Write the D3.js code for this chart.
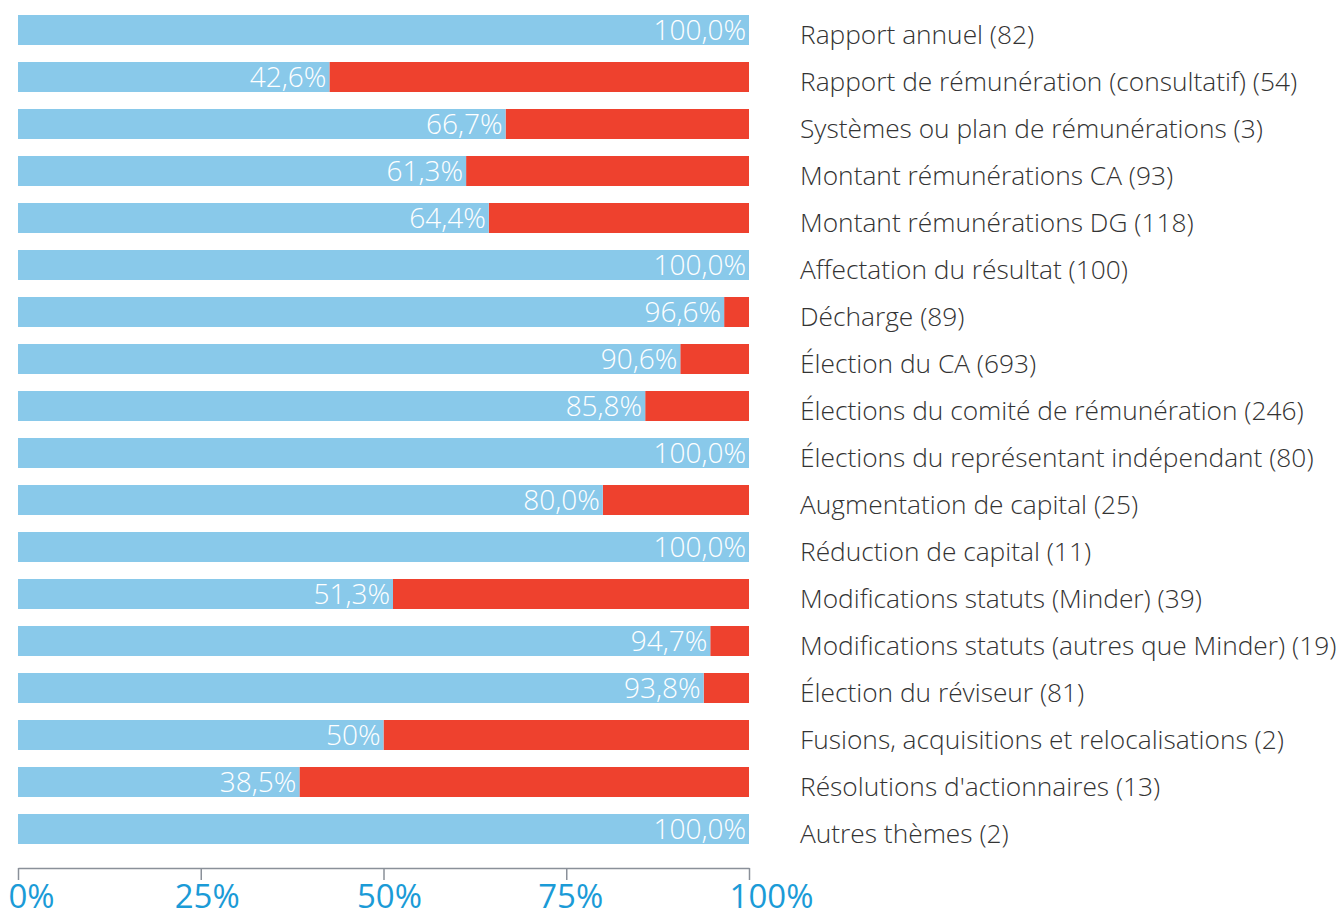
<!DOCTYPE html>
<html>
<head>
<meta charset="utf-8">
<script src="https://cdn.jsdelivr.net/npm/d3@7"></script>
<style>
  body { margin: 0; background: #fff; }
  svg text { font-family: "Open Sans", sans-serif; }
</style>
</head>
<body>
<div id="chart"></div>
<script>
// Categories (top to bottom)
var categories = [
  "Rapport annuel (82)",
  "Rapport de rémunération (consultatif) (54)",
  "Systèmes ou plan de rémunérations (3)",
  "Montant rémunérations CA (93)",
  "Montant rémunérations DG (118)",
  "Affectation du résultat (100)",
  "Décharge (89)",
  "Élection du CA (693)",
  "Élections du comité de rémunération (246)",
  "Élections du représentant indépendant (80)",
  "Augmentation de capital (25)",
  "Réduction de capital (11)",
  "Modifications statuts (Minder) (39)",
  "Modifications statuts (autres que Minder) (19)",
  "Élection du réviseur (81)",
  "Fusions, acquisitions et relocalisations (2)",
  "Résolutions d'actionnaires (13)",
  "Autres thèmes (2)"
];

// Share of approval (%)
var approval = [100, 42.6, 66.7, 61.3, 64.4, 100, 96.6, 90.6, 85.8, 100, 80, 100, 51.3, 94.7, 93.8, 50, 38.5, 100];

var valueLabels = ["100,0%", "42,6%", "66,7%", "61,3%", "64,4%", "100,0%", "96,6%", "90,6%", "85,8%",
  "100,0%", "80,0%", "100,0%", "51,3%", "94,7%", "93,8%", "50%", "38,5%", "100,0%"];

var tickValues = [0, 25, 50, 75, 100];
var tickLabels = ["0%", "25%", "50%", "75%", "100%"];

var svgWidth = 1341;
var svgHeight = 915;

var svg = d3.select("#chart")
  .append("svg")
  .attr("width", svgWidth)
  .attr("height", svgHeight);

var x = d3.scaleLinear()
  .domain([0, 100])
  .range([18, 749]);

var y = d3.scaleBand()
  .domain(categories)
  .range([15, 844])
  .paddingInner(17 / 47)
  .paddingOuter(0);

var rows = categories.map(function (c, i) {
  return { cat: c, yes: approval[i], label: valueLabels[i] };
});

// red part (rest up to 100%)
svg.selectAll(".no")
  .data(rows)
  .enter()
  .append("rect")
  .attr("x", d => x(d.yes))
  .attr("y", d => y(d.cat))
  .attr("width", d => x(100) - x(d.yes))
  .attr("height", y.bandwidth())
  .attr("fill", "#ee412e");

// blue part
svg.selectAll(".yes")
  .data(rows)
  .enter()
  .append("rect")
  .attr("x", x(0))
  .attr("y", d => y(d.cat))
  .attr("width", d => x(d.yes) - x(0))
  .attr("height", y.bandwidth())
  .attr("fill", "#89c9ea");

// values inside the bars
svg.selectAll(".val")
  .data(rows)
  .enter()
  .append("text")
  .attr("x", d => x(d.yes) - 3)
  .attr("y", d => y(d.cat) + y.bandwidth() / 2)
  .attr("dy", "0.36em")
  .attr("text-anchor", "end")
  .attr("fill", "#fff")
  .attr("font-size", "28px")
  .attr("font-weight", 300)
  .text(d => d.label);

// category labels
svg.selectAll(".cat")
  .data(rows)
  .enter()
  .append("text")
  .attr("x", 800)
  .attr("y", d => y(d.cat) + y.bandwidth() / 2 + 5)
  .attr("dy", "0.36em")
  .attr("fill", "#333")
  .attr("font-size", "26.3px")
  .attr("font-weight", 300)
  .text(d => d.cat);

// bottom axis
var labelShift = [13, 6, 5.5, 4, 22];
var bottomAxis = d3.axisBottom(x)
  .tickValues(tickValues)
  .tickSize(12)
  .tickSizeOuter(0)
  .tickFormat((d, i) => tickLabels[i]);

var axisG = svg.append("g")
  .attr("transform", "translate(0, 868)")
  .call(bottomAxis);

axisG.select(".domain")
  .attr("stroke", "#8a9099")
  .attr("stroke-width", 1.5);
axisG.selectAll(".tick line")
  .attr("stroke", "#8a9099")
  .attr("stroke-width", 1.5);
axisG.selectAll(".tick text")
  .attr("fill", "#1b9bd7")
  .attr("font-size", "33px")
  .attr("font-family", "'Open Sans', sans-serif")
  .attr("y", 40)
  .attr("dy", 0)
  .attr("dx", (d, i) => labelShift[i]);
</script>
</body>
</html>
